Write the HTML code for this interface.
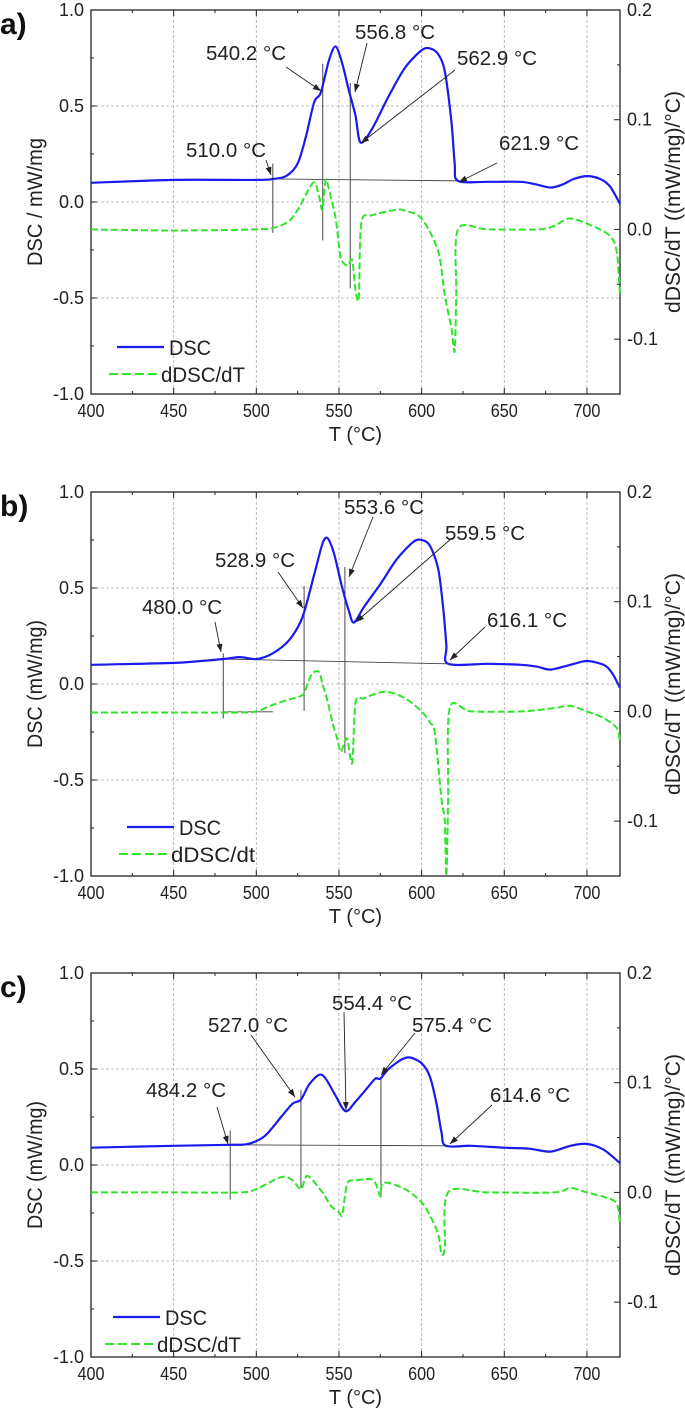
<!DOCTYPE html>
<html><head><meta charset="utf-8"><style>
html,body{margin:0;padding:0;background:#fff;}
svg{display:block;font-family:"Liberation Sans",Arial,sans-serif;}
</style></head><body>
<svg id="root" width="685" height="1423" viewBox="0 0 685 1423" xmlns="http://www.w3.org/2000/svg"></svg>
<script>
// ---- data: panel a ----
const aDscT=[400,450,500,510,518,525,530,535,539,544,548,552,556,560,563,570,580,590,600,605,610,614,618,620,622,640,660,670,678,685,692,700,708,714,720];
const aDscV=[0.10,0.115,0.115,0.12,0.135,0.2,0.34,0.52,0.57,0.74,0.81,0.72,0.58,0.45,0.31,0.38,0.55,0.70,0.79,0.80,0.77,0.68,0.42,0.2,0.11,0.105,0.105,0.09,0.075,0.09,0.12,0.135,0.12,0.08,-0.01];
const aDerT=[400,450,500,512,520,526,530,535,538,540,542,544,548,551,555,558,560,562,563.5,570,585,590,600,610,614,618,620,621,622,640,670,680,690,705,714,718,720];
const aDerV=[0,-0.001,0,0.002,0.008,0.02,0.032,0.043,0.03,0.018,0.045,0.036,0.01,-0.025,-0.033,-0.028,-0.055,-0.062,0.006,0.013,0.018,0.017,0.01,-0.02,-0.06,-0.09,-0.111,-0.06,0.0,0,0,0.003,0.01,0.002,-0.006,-0.02,-0.06];
// ---- data: panel b ----
const bDscT=[400,450,480,490,500,510,520,528,535,540,543,547,552,556,559,565,575,585,595,600,605,610,613,615,616,640,660,670,678,690,700,710,715,720];
const bDscV=[0.10,0.11,0.13,0.14,0.13,0.16,0.23,0.35,0.57,0.73,0.76,0.68,0.5,0.38,0.32,0.40,0.52,0.65,0.74,0.75,0.72,0.60,0.4,0.2,0.105,0.105,0.1,0.09,0.075,0.1,0.12,0.1,0.06,-0.02];
const bDerT=[400,450,490,500,510,520,528,531,534,538,540,543,546,549,551,553,555,558,560,565,578,590,600,605,608,612,614,615,616,617,630,660,680,690,700,710,718,720];
const bDerV=[-0.001,-0.001,-0.001,0,0.006,0.011,0.015,0.025,0.035,0.036,0.025,0.01,-0.01,-0.025,-0.037,-0.03,-0.025,-0.047,0.008,0.012,0.018,0.012,0,-0.01,-0.02,-0.08,-0.1,-0.15,-0.08,0.003,0,0,0.003,0.005,0,-0.006,-0.015,-0.028];
// ---- data: panel c ----
const cDscT=[400,450,484,495,505,515,522,527,532,538,542,548,554,560,567,572,575,580,588,593,600,605,609,612,614.6,630,650,665,678,690,700,710,720];
const cDscV=[0.09,0.10,0.105,0.11,0.15,0.25,0.32,0.34,0.42,0.47,0.45,0.36,0.28,0.33,0.40,0.45,0.45,0.50,0.55,0.56,0.53,0.46,0.32,0.17,0.10,0.10,0.09,0.085,0.07,0.10,0.11,0.08,0.01];
const cDerT=[400,450,490,500,515,522,527,531,540,545,550,552,555,560,570,573,575,577,590,600,605,610,612,614,616,640,680,690,700,710,718,720];
const cDerV=[0,0,0,0.003,0.014,0.011,0.003,0.015,0,-0.012,-0.018,-0.02,0.008,0.011,0.012,0.005,-0.003,0.009,0.003,-0.009,-0.021,-0.038,-0.056,-0.05,0,0,0,0.004,0,-0.004,-0.01,-0.03];
// ---- ticks ----
const xTicks=[400,450,500,550,600,650,700];
const yLeftTicks=[1.0,0.5,0.0,-0.5,-1.0];
const yRightTicks=[0.2,0.1,0.0,-0.1];

const NS="http://www.w3.org/2000/svg";
const root=document.getElementById('root');
function mk(tag,attrs,parent,text){const e=document.createElementNS(NS,tag);for(const k in attrs)e.setAttribute(k,attrs[k]);if(text!==undefined)e.textContent=text;(parent||root).appendChild(e);return e;}

const L=91,R=620;
function smoothPath(pts){
  let d=`M${pts[0][0].toFixed(1)},${pts[0][1].toFixed(1)}`;
  for(let i=0;i<pts.length-1;i++){
    const p0=pts[Math.max(0,i-1)],p1=pts[i],p2=pts[i+1],p3=pts[Math.min(pts.length-1,i+2)];
    const t=0.15;
    const c1=[p1[0]+(p2[0]-p0[0])*t,p1[1]+(p2[1]-p0[1])*t];
    const c2=[p2[0]-(p3[0]-p1[0])*t,p2[1]-(p3[1]-p1[1])*t];
    d+=` C${c1[0].toFixed(1)},${c1[1].toFixed(1)} ${c2[0].toFixed(1)},${c2[1].toFixed(1)} ${p2[0].toFixed(1)},${p2[1].toFixed(1)}`;
  }
  return d;
}

function panel(cfg){
  const T=cfg.top,B=cfg.top+384;
  const g=mk('g',{});
  
  
  const xs=v=>L+(v-400)/320*(R-L);
  const yl=v=>T+(1-v)/2*(B-T);
  const yr=v=>T+(0.2-v)/0.35*(B-T);
  xTicks.forEach(v=>{if(v>400){const e=mk('line',{x1:xs(v),x2:xs(v),y1:T,y2:B,stroke:'#aaa','stroke-width':0.8,'stroke-dasharray':'3 2'},g);}});
  [0.5,0,-0.5].forEach(v=>{const e=mk('line',{x1:L,x2:R,y1:yl(v),y2:yl(v),stroke:'#aaa','stroke-width':0.8,'stroke-dasharray':'3 2'},g);});
  const fr=mk('rect',{x:L,y:T,width:R-L,height:B-T,fill:'none',stroke:'#222','stroke-width':1.3},g);
  
  for(let v=400;v<=720;v+=25){const len=(v%50===0)?6:3;
    mk('line',{x1:xs(v),x2:xs(v),y1:B,y2:B-len,stroke:'#222'},g);
    mk('line',{x1:xs(v),x2:xs(v),y1:T,y2:T+len,stroke:'#222'},g);}
  xTicks.forEach(v=>{const e=mk('text',{x:xs(v),y:B+23,'font-size':18,'text-anchor':'middle',fill:'#222',textLength:27,lengthAdjust:'spacingAndGlyphs'},g,String(v));});
  for(let v=-1;v<=1.001;v+=0.25){const len=(Math.abs(v*2-Math.round(v*2))<1e-6)?6:3;mk('line',{x1:L,x2:L+len,y1:yl(v),y2:yl(v),stroke:'#222'},g);}
  yLeftTicks.forEach(v=>{const e=mk('text',{x:L-7,y:yl(v)+6,'font-size':18,'text-anchor':'end',fill:'#222'},g,v.toFixed(1));});
  for(let v=-0.15;v<=0.2001;v+=0.05){const len=(Math.abs(v*10-Math.round(v*10))<1e-6)?6:3;mk('line',{x1:R,x2:R-len,y1:yr(v),y2:yr(v),stroke:'#222'},g);}
  yRightTicks.forEach(v=>{const e=mk('text',{x:R+7,y:yr(v)+6,'font-size':18,'text-anchor':'start',fill:'#222'},g,v.toFixed(1));});
  let e=mk('text',{x:(L+R)/2,y:B+47,'font-size':20,'text-anchor':'middle',fill:'#222'},g,'T (°C)');
  
  const ly=(T+B)/2;
  e=mk('text',{x:42,y:ly,'font-size':21,'text-anchor':'middle',fill:'#222',transform:`rotate(-90 42 ${ly})`,textLength:128,lengthAdjust:'spacingAndGlyphs'},g,cfg.yTitle);
  
  e=mk('text',{x:680,y:ly,'font-size':21,'text-anchor':'middle',fill:'#222',transform:`rotate(-90 680 ${ly})`,textLength:222,lengthAdjust:'spacingAndGlyphs'},g,'dDSC/dT ((mW/mg)/°C)');
  
  e=mk('text',{x:0,y:cfg.top+24,'font-size':30,'font-weight':'bold',fill:'#111'},g,cfg.id+')');
  
  cfg.vlines.forEach(v=>{const l=mk('line',{x1:xs(v[0]),x2:xs(v[0]),y1:yl(v[1]),y2:yl(v[2]),stroke:'#333','stroke-width':0.9},g);});
  const bl=mk('line',{x1:xs(cfg.base[0]),y1:yl(cfg.base[1]),x2:xs(cfg.base[2]),y2:yl(cfg.base[3]),stroke:'#444','stroke-width':0.9},g);
  
  if(cfg.hline){const h=mk('line',{x1:xs(cfg.hline[0]),x2:xs(cfg.hline[1]),y1:yl(cfg.hline[2]),y2:yl(cfg.hline[2]),stroke:'#444','stroke-width':0.9},g);}
  const dp=mk('path',{d:smoothPath(cfg.derT.map((t,i)=>[xs(t),yr(cfg.derV[i])])),fill:'none',stroke:'#2fe52a','stroke-width':2,'stroke-dasharray':'7 3'},g);
  
  const sp=mk('path',{d:smoothPath(cfg.dscT.map((t,i)=>[xs(t),yl(cfg.dscV[i])])),fill:'none',stroke:'#1a1aee','stroke-width':2.2},g);
  
  cfg.arrows.forEach(a=>{
    const [x1,y1,x2,y2]=[a[0],a[1],a[2],a[3]];
    const l=mk('line',{x1,y1,x2,y2,stroke:'#222','stroke-width':0.9},g);
    
    const ang=Math.atan2(y2-y1,x2-x1),s=8,w=3;
    const bx=x2-s*Math.cos(ang),by=y2-s*Math.sin(ang);
    mk('polygon',{points:`${x2},${y2} ${bx-w*Math.sin(ang)},${by+w*Math.cos(ang)} ${bx+w*Math.sin(ang)},${by-w*Math.cos(ang)}`,fill:'#222'},g);
  });
  cfg.labels.forEach(a=>{const t=mk('text',{x:a[0],y:a[1]+7,'font-size':20,'text-anchor':'middle',fill:'#222',textLength:80,lengthAdjust:'spacingAndGlyphs'},g,a[2]);});
  const lg=mk('g',{},g);
  mk('line',{x1:cfg.leg[0],x2:cfg.leg[0]+47,y1:cfg.leg[1],y2:cfg.leg[1],stroke:'#1a1aee','stroke-width':2.2},lg);
  e=mk('text',{x:cfg.leg[0]+52,y:cfg.leg[1]+8,'font-size':21,fill:'#222',textLength:42,lengthAdjust:'spacingAndGlyphs'},lg,'DSC');
  mk('line',{x1:cfg.leg[0]-8,x2:cfg.leg[0]+40,y1:cfg.leg[1]+27,y2:cfg.leg[1]+27,stroke:'#2fe52a','stroke-width':2,'stroke-dasharray':'9 4'},lg);
  e=mk('text',{x:cfg.leg[0]+44,y:cfg.leg[1]+35,'font-size':21,fill:'#222',textLength:84,lengthAdjust:'spacingAndGlyphs'},lg,cfg.derName);
}

panel({id:'a',top:10,yTitle:'DSC / mW/mg',derName:'dDSC/dT',dscT:aDscT,dscV:aDscV,derT:aDerT,derV:aDerV,
  vlines:[[510,0.2,-0.16],[540.2,0.72,-0.2],[556.8,0.62,-0.45]],base:[510,0.12,622,0.11],
  arrows:[[266,160,271,175],[286,67,321,91],[367,43,355,92],[455,70,361,143],[497,163,459,182]],
  labels:[[226,150,'510.0 °C'],[246,53,'540.2 °C'],[395,32,'556.8 °C'],[497,58,'562.9 °C'],[539,143,'621.9 °C']],
  leg:[117,347]});
panel({id:'b',top:492,yTitle:'DSC (mW/mg)',derName:'dDSC/dt',dscT:bDscT,dscV:bDscV,derT:bDerT,derV:bDerV,
  vlines:[[480,0.16,-0.18],[528.9,0.51,-0.14],[553.6,0.61,-0.36]],base:[480,0.13,616,0.105],hline:[480,510,-0.145],
  arrows:[[215,622,221,652],[278,572,303,608],[373,517,349,577],[452,538,356,622],[485,627,450,660]],
  labels:[[182,607,'480.0 °C'],[255,560,'528.9 °C'],[384,507,'553.6 °C'],[485,533,'559.5 °C'],[527,620,'616.1 °C']],
  leg:[127,827]});
panel({id:'c',top:973,yTitle:'DSC (mW/mg)',derName:'dDSC/dT',dscT:cDscT,dscV:cDscV,derT:cDerT,derV:cDerV,
  vlines:[[484.2,0.18,-0.18],[527,0.39,-0.12],[575.4,0.46,-0.17]],base:[484.2,0.105,614.6,0.1],
  arrows:[[217,1107,228,1144],[251,1035,295,1097],[344,1012,346,1110],[415,1033,381,1075],[492,1105,450,1144]],
  labels:[[186,1090,'484.2 °C'],[248,1025,'527.0 °C'],[372,1003,'554.4 °C'],[452,1025,'575.4 °C'],[530,1095,'614.6 °C']],
  leg:[113,1317]});
</script>
</body></html>
